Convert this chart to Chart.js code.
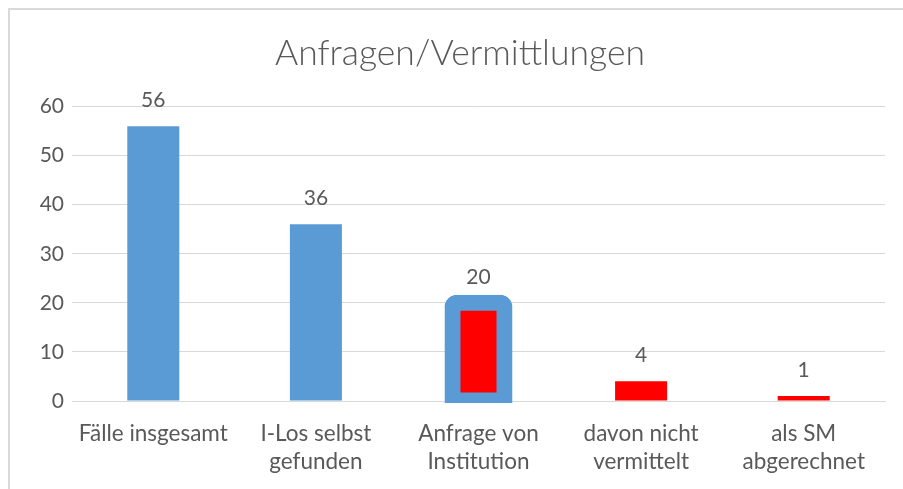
<!DOCTYPE html>
<html>
<head>
<meta charset="utf-8">
<script src="https://cdn.jsdelivr.net/npm/chart.js@4/dist/chart.umd.min.js"></script>
<style>
  html, body { margin: 0; padding: 0; background: #fff; overflow: hidden; }
  canvas { display: block; }
</style>
</head>
<body>
<canvas id="myChart" width="903" height="489"></canvas>
<script>
// chart data
const chartTitle = 'Anfragen/Vermittlungen';
const categories = [
    ['Fälle insgesamt'],
    ['I-Los selbst', 'gefunden'],
    ['Anfrage von', 'Institution'],
    ['davon nicht', 'vermittelt'],
    ['als SM', 'abgerechnet']
];
const values = [56, 36, 20, 4, 1];
const yMin = 0;
const yMax = 60;
const yStep = 10;

const blue = '#5b9bd5';
const red = '#ff0000';
const textGray = '#595959';
const gridGray = '#d9d9d9';
const font = 'Lato, "Open Sans", sans-serif';

// third bar is red with a thick rounded blue outline
const barFill = [blue, blue, red, red, red];
const outlined = [false, false, true, false, false];

// chart frame (only top and left edges are inside the picture)
const frame = {
    id: 'frame',
    beforeDraw(chart) {
        const ctx = chart.ctx;
        ctx.save();
        ctx.strokeStyle = gridGray;
        ctx.lineWidth = 2;
        ctx.beginPath();
        ctx.moveTo(9, chart.height);
        ctx.lineTo(9, 9);
        ctx.lineTo(chart.width, 9);
        ctx.stroke();
        ctx.restore();
    }
};

// draws the value above each bar
const valueLabels = {
    id: 'valueLabels',
    afterDatasetsDraw(chart) {
        const ctx = chart.ctx;
        const meta = chart.getDatasetMeta(0);
        ctx.save();
        ctx.font = '21px ' + font;
        ctx.fillStyle = textGray;
        ctx.textAlign = 'center';
        ctx.textBaseline = 'middle';
        meta.data.forEach((bar, i) => {
            ctx.fillText(String(values[i]), bar.x, bar.y - 26);
        });
        ctx.restore();
    }
};

const ctx = document.getElementById('myChart').getContext('2d');
const chart = new Chart(ctx, {
    type: 'bar',
    data: {
        labels: categories,
        datasets: [{
            data: values,
            backgroundColor: barFill,
            borderColor: blue,
            borderWidth: (c) => outlined[c.dataIndex] ? 16 : 0,
            inflateAmount: (c) => outlined[c.dataIndex] ? 8 : 0,
            borderRadius: (c) => outlined[c.dataIndex]
                ? {topLeft: 12, topRight: 12, bottomLeft: 0, bottomRight: 0} : 0,
            borderSkipped: false,
            clip: {left: false, top: false, right: false, bottom: 2},
            categoryPercentage: 1,
            barPercentage: 0.32
        }]
    },
    options: {
        responsive: false,
        animation: false,
        layout: { padding: { left: 35, right: 18, top: 0, bottom: 0 } },
        plugins: {
            legend: { display: false },
            tooltip: { enabled: false },
            title: {
                display: true,
                text: chartTitle,
                color: textGray,
                font: { family: font, size: 35.5, weight: 300, lineHeight: 1.2 },
                padding: { top: 32, bottom: 32 }
            }
        },
        scales: {
            x: {
                z: 1,
                grid: { display: false, drawTicks: false },
                border: { display: true, color: gridGray, width: 1 },
                ticks: {
                    color: textGray,
                    padding: 19,
                    maxRotation: 0,
                    autoSkip: false,
                    font: { family: font, size: 22.5, lineHeight: 1.25 }
                },
                afterFit(scale) { scale.height = 88; }
            },
            y: {
                min: yMin,
                max: yMax,
                grid: { color: gridGray, drawTicks: false },
                border: { display: false },
                ticks: {
                    stepSize: yStep,
                    color: textGray,
                    padding: 8,
                    font: { family: font, size: 21 }
                },
                afterFit(scale) { scale.width = 37; }
            }
        }
    },
    plugins: [frame, valueLabels]
});
</script>
</body>
</html>
